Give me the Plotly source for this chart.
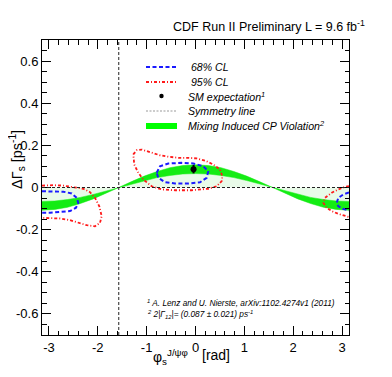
import math
import plotly.graph_objects as go

# ---------------- data ----------------
PHI_MIN, PHI_MAX = -math.pi, math.pi
DG_MIN, DG_MAX = -0.7, 0.7
SYM_PHI = -math.pi / 2
ZERO = 0.0

X_TICKS = [-3, -2, -1, 0, 1, 2, 3]
X_TICK_LABELS = ["-3", "-2", "-1", "0", "1", "2", "3"]
Y_TICKS = [-0.6, -0.4, -0.2, 0, 0.2, 0.4, 0.6]
Y_TICK_LABELS = ["-0.6", "-0.4", "-0.2", "0", "0.2", "0.4", "0.6"]

# Mixing induced CP violation band
BAND_PHI = [-3.1416, -2.8798, -2.6180, -2.3562, -2.0944, -1.8326, -1.5708, -1.3090,
            -1.0472, -0.7854, -0.5236, -0.2618, 0.0, 0.2618, 0.5236, 0.7854, 1.0472,
            1.3090, 1.5708, 1.8326, 2.0944, 2.3562, 2.6180, 2.8798, 3.1416]
BAND_LO = [-0.066, -0.064, -0.057, -0.047, -0.033, -0.017, 0.0, 0.017, 0.033, 0.047,
           0.057, 0.064, 0.066, 0.064, 0.057, 0.047, 0.033, 0.017, 0.0, -0.017,
           -0.033, -0.047, -0.057, -0.064, -0.066]
BAND_HI = [-0.108, -0.104, -0.094, -0.076, -0.054, -0.028, 0.0, 0.028, 0.054, 0.076,
           0.094, 0.104, 0.108, 0.104, 0.094, 0.076, 0.054, 0.028, 0.0, -0.028,
           -0.054, -0.076, -0.094, -0.104, -0.108]

# 68% CL contours
CL68_C_PHI = [-0.794, -0.727, -0.557, -0.282, -0.045, 0.160, 0.262, 0.229, 0.092,
              -0.147, -0.420, -0.624, -0.761, -0.794]
CL68_C_DG = [0.070, 0.101, 0.114, 0.117, 0.114, 0.101, 0.077, 0.046, 0.025,
             0.019, 0.019, 0.025, 0.046, 0.070]
CL68_L_PHI = [-3.142, -2.910, -2.706, -2.534, -2.431, -2.399, -2.446, -2.569, -2.773,
              -2.978, -3.142]
CL68_L_DG = [-0.018, -0.018, -0.020, -0.028, -0.049, -0.073, -0.096, -0.112, -0.117,
             -0.120, -0.120]
CL68_R_PHI = [3.142, 3.025, 2.923, 2.890, 2.923, 3.013, 3.142]
CL68_R_DG = [-0.024, -0.033, -0.049, -0.073, -0.089, -0.101, -0.109]

# 95% CL contours
CL95_C_PHI = [-1.273, -1.203, -1.101, -0.999, -0.864, -0.727, -0.557, -0.352, -0.147,
              0.025, 0.194, 0.364, 0.501, 0.549, 0.536, 0.434, 0.262, -0.078, -0.420,
              -0.692, -0.896, -1.068, -1.171, -1.253, -1.273]
CL95_C_DG = [0.157, 0.177, 0.180, 0.172, 0.161, 0.153, 0.146, 0.141, 0.141,
             0.138, 0.128, 0.109, 0.085, 0.054, 0.030, 0.006, -0.006, -0.013, -0.013,
             -0.009, 0.006, 0.038, 0.070, 0.109, 0.157]
CL95_L_PHI = [-3.142, -2.910, -2.706, -2.501, -2.296, -2.159, -2.057, -1.969, -1.920,
              -1.955, -2.057, -2.227, -2.399, -2.569, -2.773, -2.978, -3.142]
CL95_L_DG = [0.009, 0.011, 0.009, 0.003, -0.006, -0.022, -0.049, -0.089, -0.136,
             -0.168, -0.184, -0.179, -0.168, -0.155, -0.147, -0.144, -0.144]
CL95_R_PHI = [3.142, 3.060, 2.923, 2.788, 2.650, 2.616, 2.685, 2.788, 2.923, 3.025, 3.142]
CL95_R_DG = [0.007, 0.003, -0.009, -0.025, -0.049, -0.073, -0.096, -0.112, -0.125,
             -0.133, -0.140]

# SM expectation
SM_PHI = [-0.04]
SM_DG = [0.087]
SM_ERR = [0.020]

LEGEND_LABELS = [" 68% CL", " 95% CL", "SM expectation<sup>1</sup>", "Symmetry line",
                 "Mixing Induced CP Violation<sup>2</sup>"]

# ---------------- style / layout ----------------
WIN_W, WIN_H = 392, 377
OFF = 8                       # default page body margin
W, H = WIN_W - OFF, WIN_H - OFF
L, R, T, B = 42, 349, 40, 335  # plot-area edges in window pixels
FONT = "Liberation Sans, Arial, Helvetica, sans-serif"
GREEN = "#14ec14"
BLUE = "#1a1aff"
RED = "#ff1a1a"


def px(x):
    return (x - L) / (R - L)


def py(y):
    return (B - y) / (B - T)


fig = go.Figure()

# light fill between zero and band
fig.add_trace(go.Scatter(x=BAND_PHI, y=BAND_HI, mode="lines", line=dict(width=0),
                         fill="tozeroy", fillcolor="rgba(40,220,40,0.10)",
                         hoverinfo="skip", showlegend=False))
fig.add_trace(go.Scatter(x=BAND_PHI, y=BAND_HI, mode="lines",
                         line=dict(width=0.5, color=GREEN), showlegend=False))
fig.add_trace(go.Scatter(x=BAND_PHI, y=BAND_LO, mode="lines",
                         line=dict(width=0.5, color=GREEN), fill="tonexty",
                         fillcolor=GREEN, showlegend=False))

red_dash = "3px,2px,1px,2px"
blue_dash = "4px,2.5px"
for xs, ys in [(CL95_C_PHI, CL95_C_DG), (CL95_L_PHI, CL95_L_DG), (CL95_R_PHI, CL95_R_DG)]:
    fig.add_trace(go.Scatter(x=xs, y=ys, mode="lines", line=dict(color=RED, width=1.8, dash=red_dash),
                             showlegend=False))
for xs, ys in [(CL68_C_PHI, CL68_C_DG), (CL68_L_PHI, CL68_L_DG), (CL68_R_PHI, CL68_R_DG)]:
    fig.add_trace(go.Scatter(x=xs, y=ys, mode="lines", line=dict(color=BLUE, width=2, dash=blue_dash),
                             showlegend=False))

fig.add_trace(go.Scatter(x=SM_PHI, y=SM_DG, mode="markers",
                         marker=dict(color="black", size=6),
                         error_y=dict(type="data", array=SM_ERR, color="black", thickness=2, width=0),
                         showlegend=False))

shapes = [
    dict(type="line", xref="paper", yref="y", x0=0, x1=1, y0=ZERO, y1=ZERO,
         line=dict(color="#222", width=1, dash="3px,2px")),
    dict(type="line", xref="x", yref="paper", x0=SYM_PHI, x1=SYM_PHI, y0=0, y1=1,
         line=dict(color="#222", width=1, dash="3px,2px")),
]

# manual legend
rows_y = [67, 82, 96, 111, 126]
sx0, sx1, tx = 146, 177, 186
legend_styles = [
    dict(kind="line", color=BLUE, width=2, dash=blue_dash),
    dict(kind="line", color=RED, width=1.8, dash=red_dash),
    dict(kind="dot"),
    dict(kind="line", color="#999", width=1, dash="2px,1.5px"),
    dict(kind="line", color="#00ff00", width=6, dash="solid"),
]
annotations = []
for yy, lab, st in zip(rows_y, LEGEND_LABELS, legend_styles):
    if st["kind"] == "line":
        shapes.append(dict(type="line", xref="paper", yref="paper", x0=px(sx0), x1=px(sx1),
                           y0=py(yy), y1=py(yy),
                           line=dict(color=st["color"], width=st["width"], dash=st["dash"])))
    else:
        cx = (sx0 + sx1) / 2
        shapes.append(dict(type="circle", xref="paper", yref="paper", x0=px(cx - 2.2), x1=px(cx + 2.2),
                           y0=py(yy + 2.2), y1=py(yy - 2.2), fillcolor="black", line=dict(width=0)))
    annotations.append(dict(xref="paper", yref="paper", x=px(tx), y=py(yy), xanchor="left",
                            yanchor="middle", showarrow=False, text="<i>" + lab + "</i>",
                            font=dict(family=FONT, size=10.6, color="black")))

# title
annotations.append(dict(xref="paper", yref="paper", x=px(367), y=py(26), xanchor="right",
                        yanchor="middle", showarrow=False,
                        text="CDF Run II Preliminary L = 9.6 fb<sup>-1</sup>",
                        font=dict(family=FONT, size=12.5, color="black")))
# footnotes
annotations.append(dict(xref="paper", yref="paper", x=px(145), y=py(302.5), xanchor="left",
                        yanchor="middle", showarrow=False,
                        text="<i><sup>1</sup> A. Lenz and U. Nierste, arXiv:1102.4274v1 (2011)</i>",
                        font=dict(family=FONT, size=8.3, color="black")))
annotations.append(dict(xref="paper", yref="paper", x=px(145), y=py(314), xanchor="left",
                        yanchor="middle", showarrow=False,
                        text="<i><sup>2</sup> 2|Γ<sub>12</sub>|= (0.087 ± 0.021) ps<sup>-1</sup></i>",
                        font=dict(family=FONT, size=8.3, color="black")))
# axis titles (x title split around the "0" tick label)
annotations.append(dict(xref="paper", yref="paper", x=px(190), y=py(357), xanchor="right",
                        yanchor="middle", showarrow=False,
                        text="φ<sub>s</sub><sup>J/ψφ</sup>",
                        font=dict(family=FONT, size=14, color="black")))
annotations.append(dict(xref="paper", yref="paper", x=px(200), y=py(355), xanchor="left",
                        yanchor="middle", showarrow=False,
                        text="[rad]",
                        font=dict(family=FONT, size=14, color="black")))
annotations.append(dict(xref="paper", yref="paper", x=px(17), y=py(160), xanchor="center",
                        yanchor="middle", showarrow=False, textangle=-90,
                        text="ΔΓ<sub>s</sub> [ps<sup>-1</sup>]",
                        font=dict(family=FONT, size=14.5, color="black")))

axis_common = dict(showline=True, linecolor="black", linewidth=1, mirror="allticks",
                   ticks="inside", ticklen=9, tickcolor="black", tickwidth=1,
                   showgrid=False, zeroline=False, automargin=False,
                   tickfont=dict(family=FONT, size=13, color="black"))

fig.update_layout(
    width=W, height=H,
    margin=dict(l=L - OFF, r=W - (R - OFF), t=T - OFF, b=H - (B - OFF), pad=0),
    paper_bgcolor="white", plot_bgcolor="white",
    showlegend=False,
    shapes=shapes, annotations=annotations,
    xaxis=dict(range=[PHI_MIN, PHI_MAX], tickmode="array", tickvals=X_TICKS, ticktext=X_TICK_LABELS,
               minor=dict(tickmode="linear", tick0=0, dtick=0.2, ticks="inside", ticklen=4.5,
                          tickcolor="black", showgrid=False),
               **axis_common),
    yaxis=dict(range=[DG_MIN, DG_MAX], tickmode="array", tickvals=Y_TICKS, ticktext=Y_TICK_LABELS,
               minor=dict(tickmode="linear", tick0=0, dtick=0.05, ticks="inside", ticklen=4.5,
                          tickcolor="black", showgrid=False),
               **axis_common),
)

fig.write_html("out.html")
